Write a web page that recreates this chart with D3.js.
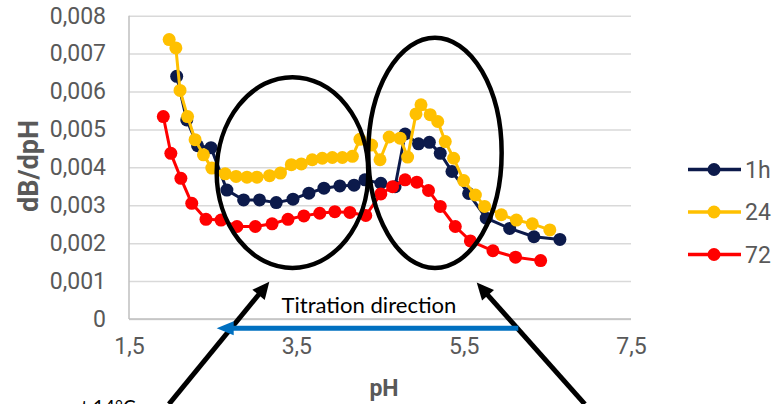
<!DOCTYPE html>
<html>
<head>
<meta charset="utf-8">
<script src="https://cdn.jsdelivr.net/npm/d3@7"></script>
<style>
  html, body { margin: 0; padding: 0; background: #fff; }
  svg { display: block; }
</style>
</head>
<body>
<svg id="chart" width="774" height="404"></svg>
<script>
// ---------- DATA ----------
const seriesNames = ["1h", "24", "72"];
const seriesColors = ["#0c1a4b", "#ffc000", "#ff0000"];

const ph1h  = [2.07, 2.19, 2.32, 2.48, 2.67, 2.87, 3.06, 3.26, 3.46, 3.65, 3.83, 4.02, 4.19, 4.32, 4.51, 4.68, 4.80, 4.96, 5.09, 5.22, 5.36, 5.56, 5.77, 6.05, 6.34, 6.65];
const val1h = [0.00640, 0.00525, 0.00457, 0.00452, 0.00340, 0.00314, 0.00314, 0.00307, 0.00316, 0.00332, 0.00345, 0.00351, 0.00353, 0.00367, 0.00358, 0.00349, 0.00488, 0.00462, 0.00466, 0.00437, 0.00389, 0.00331, 0.00266, 0.00239, 0.00217, 0.00210];

const ph24  = [1.98, 2.06, 2.11, 2.20, 2.29, 2.39, 2.49, 2.65, 2.78, 2.91, 3.03, 3.18, 3.31, 3.44, 3.56, 3.69, 3.81, 3.93, 4.05, 4.17, 4.26, 4.40, 4.50, 4.61, 4.74, 4.83, 4.93, 4.99, 5.10, 5.19, 5.28, 5.38, 5.50, 5.64, 5.75, 5.95, 6.13, 6.32, 6.53];
const val24 = [0.00737, 0.00715, 0.00603, 0.00534, 0.00473, 0.00433, 0.00398, 0.00383, 0.00376, 0.00374, 0.00374, 0.00378, 0.00385, 0.00407, 0.00409, 0.00420, 0.00424, 0.00426, 0.00426, 0.00429, 0.00474, 0.00459, 0.00420, 0.00480, 0.00477, 0.00427, 0.00541, 0.00565, 0.00539, 0.00521, 0.00468, 0.00424, 0.00365, 0.00327, 0.00297, 0.00275, 0.00261, 0.00251, 0.00235];

const ph72  = [1.91, 2.00, 2.12, 2.25, 2.42, 2.60, 2.79, 3.01, 3.21, 3.40, 3.59, 3.78, 3.96, 4.14, 4.33, 4.51, 4.65, 4.80, 4.94, 5.08, 5.22, 5.40, 5.58, 5.85, 6.12, 6.42];
const val72 = [0.00534, 0.00437, 0.00371, 0.00305, 0.00263, 0.00261, 0.00244, 0.00244, 0.00251, 0.00263, 0.00272, 0.00279, 0.00283, 0.00281, 0.00273, 0.00330, 0.00349, 0.00367, 0.00361, 0.00339, 0.00297, 0.00244, 0.00206, 0.00180, 0.00163, 0.00154];

const xTicks = [1.5, 3.5, 5.5, 7.5];
const yTicks = [0, 0.001, 0.002, 0.003, 0.004, 0.005, 0.006, 0.007, 0.008];
const xTitle = "pH";
const yTitle = "dB/dpH";
const noteText = "Titration direction";
const footText = "at 14°C";

// annotation geometry in data units: [cx, cy, rx, ry]
const ellipses = [[3.454, 0.003863, 0.906, 0.002516], [5.157, 0.004383, 0.797, 0.003036]];
// black arrows: [tailX, tailY, tipX, tipY]
const blackArrows = [[1.978, -0.002244, 3.177, 0.000985], [6.948, -0.002244, 5.656, 0.000960]];
// blue arrow: [fromX, toX, y]
const blueArrow = [6.153, 2.548, -0.000246];
const noteAt = [4.368, 0.000150];

// ---------- SETUP ----------
const svg = d3.select("#chart");
const x = d3.scaleLinear().domain([1.5, 7.5]).range([129, 631]);
const y = d3.scaleLinear().domain([0, 0.008]).range([319, 15.7]);
const tickFont = "Roboto, 'Noto Sans', sans-serif";
const fmt = v => v === 0 ? "0" : d3.format(".3f")(v).replace(".", ",");
const fmtX = v => d3.format(".1f")(v).replace(".", ",");

// gridlines + y axis
const gy = svg.append("g").attr("transform", `translate(${x.range()[0]},0)`)
  .call(d3.axisLeft(y).tickValues(yTicks).tickFormat(fmt)
        .tickSize(-(x.range()[1] - x.range()[0])).tickPadding(23));
gy.select(".domain").remove();
gy.selectAll(".tick line").attr("stroke", "#d9d9d9").attr("stroke-width", 1.5);
gy.selectAll(".tick text").attr("fill", "#595959").style("font-family", tickFont)
  .style("font-size", "23px");

// x axis
const gx = svg.append("g").attr("transform", `translate(0,${y(0)})`)
  .call(d3.axisBottom(x).tickValues(xTicks).tickFormat(fmtX).tickSize(0).tickPadding(19));
gx.select(".domain").remove();
gx.selectAll(".tick text").attr("fill", "#595959").style("font-family", tickFont)
  .style("font-size", "23px");

// axis lines
svg.append("line").attr("x1", x(1.5)).attr("x2", x(1.5)).attr("y1", y(0.008)).attr("y2", y(0))
  .attr("stroke", "#bfbfbf").attr("stroke-width", 1.5);
svg.append("line").attr("x1", x(1.5)).attr("x2", x(7.5)).attr("y1", y(0)).attr("y2", y(0))
  .attr("stroke", "#bfbfbf").attr("stroke-width", 1.5);

// axis titles
svg.append("text").attr("x", (x.range()[0] + x.range()[1]) / 2 + 4).attr("y", 396)
  .attr("text-anchor", "middle").attr("fill", "#595959")
  .style("font-family", tickFont).style("font-weight", "bold").style("font-size", "23px")
  .text(xTitle);
svg.append("text").attr("transform", "translate(38,166) rotate(-90)")
  .attr("text-anchor", "middle").attr("fill", "#595959")
  .style("font-family", tickFont).style("font-weight", "bold").style("font-size", "27px")
  .text(yTitle);

// ---------- SERIES ----------
const allSeries = [
  { name: seriesNames[0], color: seriesColors[0], xs: ph1h, ys: val1h },
  { name: seriesNames[1], color: seriesColors[1], xs: ph24, ys: val24 },
  { name: seriesNames[2], color: seriesColors[2], xs: ph72, ys: val72 }
];
const line = d3.line().x(d => x(d[0])).y(d => y(d[1]));
allSeries.forEach(s => {
  const pts = s.xs.map((v, i) => [v, s.ys[i]]);
  const g = svg.append("g");
  g.append("path").datum(pts).attr("d", line).attr("fill", "none")
    .attr("stroke", s.color).attr("stroke-width", 3).attr("stroke-linejoin", "round");
  g.selectAll("circle").data(pts).join("circle")
    .attr("cx", d => x(d[0])).attr("cy", d => y(d[1])).attr("r", 6.5).attr("fill", s.color);
});

// ---------- LEGEND ----------
const legend = svg.append("g");
allSeries.forEach((s, i) => {
  const ly = 169.5 + i * 42.5;
  legend.append("line").attr("x1", 688).attr("x2", 741).attr("y1", ly).attr("y2", ly)
    .attr("stroke", s.color).attr("stroke-width", 3.5);
  legend.append("circle").attr("cx", 714).attr("cy", ly).attr("r", 6.5).attr("fill", s.color);
  legend.append("text").attr("x", 745).attr("y", ly).attr("dy", "0.36em")
    .attr("fill", "#595959").style("font-family", tickFont).style("font-size", "23px")
    .text(s.name);
});

// ---------- ANNOTATIONS ----------
const ann = svg.append("g");
ellipses.forEach(e => {
  ann.append("ellipse")
    .attr("cx", x(e[0])).attr("cy", y(e[1]))
    .attr("rx", x(e[0] + e[2]) - x(e[0])).attr("ry", y(e[1]) - y(e[1] + e[3]))
    .attr("fill", "none").attr("stroke", "#000").attr("stroke-width", 4.5);
});

function arrow(x1, y1, x2, y2, color, w, headLen, headHalf) {
  const dx = x2 - x1, dy = y2 - y1, len = Math.hypot(dx, dy);
  const ux = dx / len, uy = dy / len;
  const bx = x2 - ux * headLen, by = y2 - uy * headLen;
  ann.append("line").attr("x1", x1).attr("y1", y1).attr("x2", bx + ux * 2).attr("y2", by + uy * 2)
    .attr("stroke", color).attr("stroke-width", w);
  ann.append("path")
    .attr("d", `M${x2},${y2}L${bx - uy * headHalf},${by + ux * headHalf}L${bx + uy * headHalf},${by - ux * headHalf}Z`)
    .attr("fill", color);
}
blackArrows.forEach(a => arrow(x(a[0]), y(a[1]), x(a[2]), y(a[3]), "#000", 5, 17, 8));
arrow(x(blueArrow[0]), y(blueArrow[2]), x(blueArrow[1]), y(blueArrow[2]), "#0070c0", 5, 17, 7);

ann.append("text").attr("x", x(noteAt[0])).attr("y", y(noteAt[1]))
  .attr("text-anchor", "middle").attr("fill", "#000")
  .attr("textLength", 175).attr("lengthAdjust", "spacingAndGlyphs")
  .style("font-family", "Lato, 'Open Sans', sans-serif").style("font-size", "21px")
  .text(noteText);

// caption running off the bottom edge, as in the reference
svg.append("text").attr("x", 72).attr("y", 414).attr("fill", "#000")
  .style("font-family", "Lato, 'Open Sans', sans-serif").style("font-size", "19px")
  .text(footText);
</script>
</body>
</html>
